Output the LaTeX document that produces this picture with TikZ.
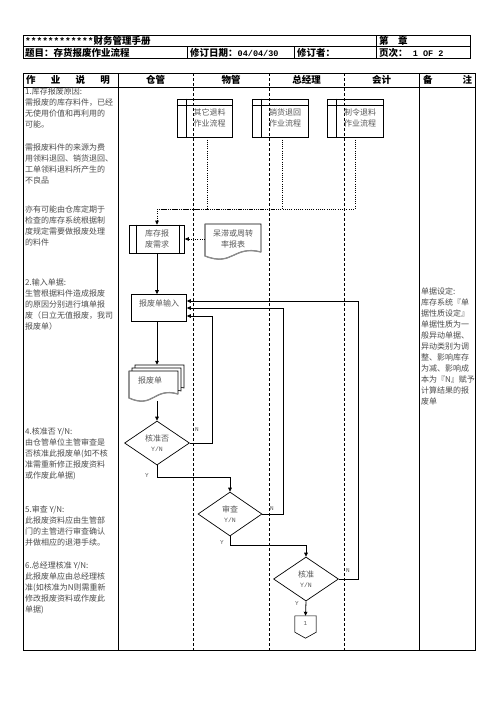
\documentclass[tikz,border=0pt]{standalone}
\usepackage{fontspec}
\setmainfont{Liberation Serif}
\newfontfamily\cjk{Noto Sans CJK SC}
\newfontfamily\mono{Liberation Mono}
\usetikzlibrary{arrows.meta,shapes.geometric,calc}
\newcommand{\mydoc}[4]{%
  \filldraw[fill=white,draw=black,line width=0.6pt] (#1,#2) -- (#3,#2) -- (#3,{#4-4}) .. controls ({(#1+#3)/2},{#4-11}) and ({(#1+#3)/2},{#4+11}) .. (#1,#4) -- cycle;
  \draw[black!45,line width=1.3pt] (#1,#2) -- (#1,#4) .. controls ({(#1+#3)/2},{#4+11}) and ({(#1+#3)/2},{#4-11}) .. (#3,{#4-4});
}
\newcommand{\mydocb}[4]{%
  \filldraw[fill=white,draw=black,line width=0.6pt] (#1,#2) -- (#3,#2) -- (#3,{#4-4}) .. controls ({(#1+#3)/2},{#4-11}) and ({(#1+#3)/2},{#4+11}) .. (#1,#4) -- cycle;
}
\begin{document}
\begin{tikzpicture}[x=1pt,y=-1pt,
  frame/.style={line width=0.9pt},
  lane/.style={dash pattern=on 3pt off 2pt, line width=0.7pt},
  feed/.style={dash pattern=on 1pt off 1.2pt, line width=0.7pt},
  conn/.style={line width=0.8pt, -{Triangle[length=4pt,width=3.6pt]}},
  body/.style={font=\cjk\fontsize{8}{11}\selectfont, text=black!70, align=left, anchor=north west, inner sep=0pt},
  hdr/.style={font=\cjk\bfseries\fontsize{9.5}{11}\selectfont, inner sep=0pt},
  flowbox/.style={draw, line width=0.7pt, inner sep=0pt, font=\cjk\fontsize{8}{11}\selectfont, text=black!65, align=center},
  txt/.style={inner sep=0pt, font=\cjk\fontsize{8}{11}\selectfont, text=black!65, align=center},
  dia/.style={diamond, draw, line width=0.7pt, inner sep=0pt, aspect=1.48, minimum width=65pt, minimum height=44pt, font=\cjk\fontsize{8}{9.5}\selectfont, text=black!65, align=center},
  yn/.style={inner sep=0pt, font=\mono\fontsize{6}{7}\selectfont, text=black!65}
]
\useasboundingbox (0,0) rectangle (496,702);
\fill[white] (0,0) rectangle (496,702);

% top header table
\draw[frame] (23,35) rectangle (470,58);
\draw[frame] (23,46.5) -- (470,46.5);
\draw[frame] (376,35) -- (376,58);
\draw[frame] (187,46.5) -- (187,58);
\draw[frame] (294,46.5) -- (294,58);
\node[hdr, anchor=west] (t1) at (25,41) {{\mono\bfseries ************}财务管理手册};
\node[hdr, anchor=west] (t2) at (379,41) {第　章};
\node[hdr, anchor=west] (t3) at (25,52.5) {题目：存货报废作业流程};
\node[hdr, anchor=west] (t4) at (190,52.5) {修订日期：{\mono\bfseries\fontsize{8.5}{10}\selectfont 04/04/30}};
\node[hdr, anchor=west] (t5) at (297,52.5) {修订者：};
\node[hdr, anchor=west] (t6) at (379,52.5) {页次：{\mono\bfseries\fontsize{8.5}{10}\selectfont\ 1 OF 2}};

% main table
\draw[frame] (23,73) rectangle (475,650);
\draw[frame] (23,87) -- (475,87);
\draw[frame] (118,73) -- (118,650);
\draw[frame] (419,73) -- (419,650);
\draw[lane] (193,73) -- (193,650);
\draw[lane] (269,73) -- (269,650);
\draw[lane] (344,73) -- (344,650);
\node[hdr] (h1) at (68,80) {\makebox[84pt][s]{作\hfill 业\hfill 说\hfill 明}};
\node[hdr] (h2) at (155.5,80) {仓管};
\node[hdr] (h3) at (231,80) {物管};
\node[hdr] (h4) at (306.5,80) {总经理};
\node[hdr] (h5) at (381.5,80) {会计};
\node[hdr] (h6) at (447.5,80) {\makebox[49pt][s]{备\hfill 注}};

% left column text
\node[body] (l1) at (25,88) {1.库存报废原因:\\需报废的库存料件，已经\\无使用价值和再利用的\\可能。};
\node[body] (l2) at (25,144) {需报废料件的来源为费\\用领料退回、销货退回、\\工单领料退料所产生的\\不良品};
\node[body] (l3) at (25,206) {亦有可能由仓库定期于\\检查的库存系统根据制\\度规定需要做报废处理\\的料件};
\node[body] (l4) at (25,279) {2.输入单据:\\生管根据料件造成报废\\的原因分别进行填单报\\废（日立无值报废，我司\\报废单）};
\node[body] (l5) at (25,428) {4.核准否 Y/N:\\由仓管单位主管审查是\\否核准此报废单(如不核\\准需重新修正报废资料\\或作废此单据)};
\node[body] (l6) at (25,506) {5.审查 Y/N:\\此报废资料应由生管部\\门的主管进行审查确认\\并做相应的退港手续。};
\node[body] (l7) at (25,562) {6.总经理核准 Y/N:\\此报废单应由总经理核\\准(如核准为N则需重新\\修改报废资料或作废此\\单据)};
\node[body] (r1) at (421,288) {单据设定:\\库存系统『单\\据性质设定』\\单据性质为一\\般异动单据、\\异动类别为调\\整、影响库存\\为减、影响成\\本为『N』赋予\\计算结果的报\\废单};

% top sub-process boxes
\node[flowbox, minimum width=55pt, minimum height=38pt] (b1) at (204.5,118) {};
\node[flowbox, minimum width=56pt, minimum height=38pt] (b2) at (280,118) {};
\node[flowbox, minimum width=56pt, minimum height=38pt] (b3) at (355,118) {};
\foreach \b in {b1,b2,b3}{
  \draw[line width=0.7pt] ($(\b.north west)+(0,7)$) -- ($(\b.north east)+(0,7)$);
  \draw[line width=0.7pt] ($(\b.north west)+(10,0)$) -- ($(\b.south west)+(10,0)$);
}
\node[txt] (b1t) at (209.5,118) {其它退料\\作业流程};
\node[txt] (b2t) at (285,118) {销货退回\\作业流程};
\node[txt] (b3t) at (360,118) {制令退料\\作业流程};

% stock scrap request
\node[flowbox, minimum width=55pt, minimum height=28pt] (req) at (157,239) {库存报\\废需求};
\draw[line width=0.7pt] ($(req.north west)+(7,0)$) -- ($(req.south west)+(7,0)$);
\draw[line width=0.7pt] ($(req.north east)+(-6,0)$) -- ($(req.south east)+(-6,0)$);

% dotted feeders
\coordinate (j) at (157,209);
\draw[feed] ($(b1.south)+(2.5,0)$) |- (j);
\draw[feed] ($(b2.south)+(2,0)$) |- (j);
\draw[feed] (b3.south) |- (j);
\draw[feed,-{Triangle[length=4pt,width=3.6pt]}] (j) -- (req.north);

% report document
\mydoc{205}{224}{261}{256}
\node[txt] (rpt) at (233,239) {呆滞或周转\\率报表};
\draw[feed,-{Triangle[length=4pt,width=3.6pt]}] (205,239) -- (req.east);

% input
\node[flowbox, minimum width=55pt, minimum height=27pt, text height=7pt, text depth=11pt] (inp) at (159,308) {报废单输入};
\draw[conn] (req.south) -- (req.south |- inp.north);

% multi document
\mydocb{135}{365}{184}{392}
\mydocb{132}{368}{181}{395}
\mydoc{129}{371}{178}{398}
\node[inner sep=0pt, minimum width=55pt, minimum height=36pt] (docs) at (157,383) {};
\node[txt] (docst) at (150,380) {报废单};
\draw[conn] (inp.south -| req.south) -- (req.south |- docs.north);

% decisions
\node[dia] (d1) at (157,443) {核准否\\{\mono\fontsize{6.5}{8}\selectfont Y/N}};
\node[dia, minimum width=64pt] (d2) at (230,514) {审查\\{\mono\fontsize{6.5}{8}\selectfont Y/N}};
\node[dia] (d3) at (306,579) {核准\\{\mono\fontsize{6.5}{8}\selectfont Y/N}};
\draw[conn] (docs.south) -- (d1.north);

\draw[conn] (d1.east) -| (212,316) -- ($(inp.east)+(0,8)$);
\draw[conn] (d1.south) -- (157,477) -| (d2.north);
\draw[conn] (d2.east) -| (283,308) -- (inp.east);
\draw[conn] (d2.south) -- (230,545) -| (d3.north);
\draw[conn] (d3.east) -| (358,301) -- ($(inp.east)+(0,-7)$);

% off-page connector
\node[inner sep=0pt, minimum width=21pt, minimum height=16pt, font=\mono\fontsize{6}{7}\selectfont, text=black!65] (con) at (305.5,624) {1};
\draw[line width=0.6pt] (con.north west) -- (con.north east) -- ($(con.south east)+(0,0)$) -- ($(con.south)+(0,6)$) -- (con.south west) -- cycle;
\draw[black!45, line width=1.3pt] (con.north west) -- (con.south west);
\draw[black!45, line width=1.3pt] (con.north east) -- (con.south east);
\draw[conn] (d3.south) -- (con.north);

% Y/N labels
\node[yn] (n1) at (197,430) {N};
\node[yn] (y1) at (147,476) {Y};
\node[yn] (n2) at (272,509) {N};
\node[yn] (y2) at (222,543) {Y};
\node[yn] (n3) at (348,571) {N};
\node[yn] (y3) at (297,604) {Y};
\end{tikzpicture}
\end{document}
